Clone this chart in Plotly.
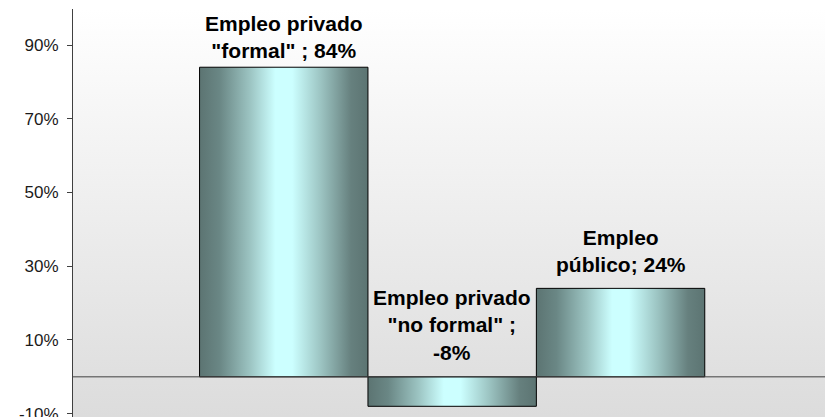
import plotly.graph_objects as go

# ---- data ----
categories = ['Empleo privado "formal" ', 'Empleo privado "no formal" ', 'Empleo público']
values = [84, -8, 24]
label_wraps = [
    ['Empleo privado', '"formal" ; {v}%'],
    ['Empleo privado', '"no formal" ;', '{v}%'],
    ['Empleo', 'público; {v}%'],
]
tick_values = [-10, 10, 30, 50, 70, 90]
tick_labels = ['-10%', '10%', '30%', '50%', '70%', '90%']

# ---- styling ----
FONT = "Arial, Liberation Sans, sans-serif"
y_range = [-10.9, 99.8]
x_range = [-1.2515, 3.214]
bar_scale = [
    [0.0, '#5c7472'], [0.12, '#6a8785'], [0.3, '#9cc4c2'], [0.45, '#ccffff'],
    [0.55, '#ccffff'], [0.72, '#9cc4c2'], [0.9, '#66807e'], [1.0, '#5c7472'],
]
label_yshift = [3, 11, 10]

fig = go.Figure()

# plot-area background gradient
fig.add_trace(go.Scatter(
    x=[x_range[0], x_range[1], x_range[1], x_range[0], x_range[0]],
    y=[y_range[0], y_range[0], y_range[1], y_range[1], y_range[0]],
    fill='toself', mode='none',
    fillgradient=dict(type='vertical', colorscale=[[0, '#dcdcdc'], [1, '#ffffff']]),
    hoverinfo='skip', showlegend=False,
))

# bars with horizontal gradient
for i, (cat, v) in enumerate(zip(categories, values)):
    x0, x1 = i - 0.5, i + 0.5
    fig.add_trace(go.Scatter(
        x=[x0, x1, x1, x0, x0], y=[0, 0, v, v, 0],
        fill='toself', mode='lines',
        line=dict(color='#000000', width=1),
        fillgradient=dict(type='horizontal', colorscale=bar_scale),
        name=cat.strip(), hoverinfo='name', showlegend=False,
    ))

# zero line above background
fig.add_shape(type='line', xref='paper', x0=0, x1=1, yref='y', y0=0, y1=0,
              line=dict(color='#404040', width=1), layer='above')

# data labels
for i, (wrap, v) in enumerate(zip(label_wraps, values)):
    text = '<br>'.join('<b>' + w.format(v=v) + '</b>' for w in wrap)
    fig.add_annotation(
        x=i, y=max(v, 0), xref='x', yref='y', text=text, showarrow=False,
        yanchor='bottom', xanchor='center', yshift=label_yshift[i],
        font=dict(family=FONT, size=21, color='#000000'),
    )

fig.update_layout(
    width=825, height=417, autosize=False,
    margin=dict(l=73, r=0, t=9, b=0, autoexpand=False),
    paper_bgcolor='#ffffff', plot_bgcolor='#ffffff',
    font=dict(family=FONT, color='#1a1a1a'),
    showlegend=False,
)
fig.update_xaxes(range=x_range, showgrid=False, zeroline=False, showticklabels=False,
                 showline=False, ticks='', fixedrange=True, automargin=False)
fig.update_yaxes(range=y_range, tickvals=tick_values, ticktext=tick_labels,
                 showgrid=False, zeroline=False, showline=True, linecolor='#404040',
                 linewidth=1, ticks='outside', ticklen=5, tickcolor='#404040',
                 ticklabeloverflow='allow', ticklabelstandoff=5, automargin=False,
                 tickfont=dict(family=FONT, size=17, color='#1a1a1a'), fixedrange=True)

fig.write_html("out.html", config={'displayModeBar': False},
               post_script="document.body.style.margin='0';")
